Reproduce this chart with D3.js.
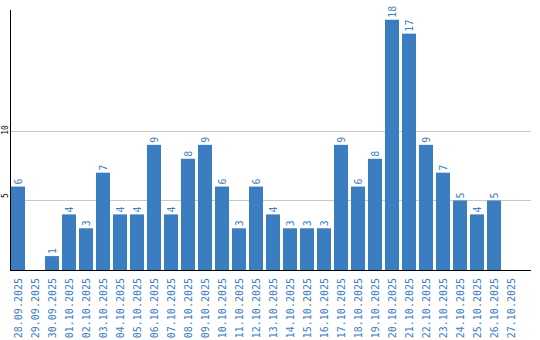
<!DOCTYPE html>
<html lang="en">
<head>
  <meta charset="UTF-8">
  <title>Daily counts</title>
  <script src="https://d3js.org/d3.v7.min.js"></script>
  <style>
    body { margin: 0; background: #fff; }
    .bar { fill: #3b7dc1; }
    .val, .date { fill: #3b7dc1; font-family: "DejaVu Sans Mono", monospace; }
    .grid line { stroke: #c8c8c8; }
  </style>
</head>
<body>
  <svg width="540" height="340"></svg>
  <script>
    const dates = ["28.09.2025","29.09.2025","30.09.2025","01.10.2025","02.10.2025","03.10.2025",
      "04.10.2025","05.10.2025","06.10.2025","07.10.2025","08.10.2025","09.10.2025","10.10.2025",
      "11.10.2025","12.10.2025","13.10.2025","14.10.2025","15.10.2025","16.10.2025","17.10.2025",
      "18.10.2025","19.10.2025","20.10.2025","21.10.2025","22.10.2025","23.10.2025","24.10.2025",
      "25.10.2025","26.10.2025","27.10.2025"];
    const counts = [6,0,1,4,3,7,4,4,9,4,8,9,6,3,6,4,3,3,3,9,6,8,18,17,9,7,5,4,5,0];
    const yTicks = [5, 10];

    const svg = d3.select("svg");
    const plotLeft = 11, plotRight = 531, plotTop = 10, plotBottom = 270;

    const x = d3.scaleBand().domain(dates).range([plotLeft, plotLeft + dates.length * 17]).padding(0);
    const y = d3.scaleLinear().domain([0, 18.7]).range([plotBottom, plotTop]);
    const barW = x.bandwidth() - 3;

    // gridlines
    svg.append("g").attr("class", "grid")
      .selectAll("line").data(yTicks).enter().append("line")
      .attr("x1", plotLeft).attr("x2", plotRight)
      .attr("y1", d => Math.round(y(d)) + 0.5)
      .attr("y2", d => Math.round(y(d)) + 0.5);

    // y tick labels
    svg.append("g").selectAll("text").data(yTicks).enter().append("text")
      .attr("transform", d => `translate(8, ${y(d) + (d < 10 ? -5 : -1)}) rotate(-90)`)
      .attr("text-anchor", "middle")
      .style("font-family", "DejaVu Sans Mono, monospace")
      .style("font-size", "8px")
      .text(d => d);

    // bars
    const shown = dates.map((d, i) => ({ date: d, v: counts[i] })).filter(d => d.v > 0);
    svg.selectAll(".bar").data(shown).enter().append("rect")
      .attr("class", "bar")
      .attr("x", d => x(d.date))
      .attr("y", d => y(d.v))
      .attr("width", barW)
      .attr("height", d => plotBottom - y(d.v));

    // value labels
    svg.selectAll(".val").data(shown).enter().append("text")
      .attr("class", "val")
      .attr("transform", d => `translate(${x(d.date) + barW / 2}, ${y(d.v) - 2}) rotate(-90)`)
      .attr("dy", "0.35em")
      .style("font-size", "10px")
      .text(d => d.v);

    // axes lines
    svg.append("line").attr("x1", plotLeft - 0.5).attr("x2", plotLeft - 0.5)
      .attr("y1", plotTop).attr("y2", plotBottom + 1).attr("stroke", "#000");
    svg.append("line").attr("x1", plotLeft - 1).attr("x2", plotRight)
      .attr("y1", plotBottom + 0.5).attr("y2", plotBottom + 0.5).attr("stroke", "#000");

    // date labels
    svg.selectAll(".date").data(dates).enter().append("text")
      .attr("class", "date")
      .attr("transform", d => `translate(${x(d) + barW / 2}, 278) rotate(-90)`)
      .attr("text-anchor", "end")
      .attr("dy", "0.35em")
      .style("font-size", "10px")
      .text(d => d);
  </script>
</body>
</html>
